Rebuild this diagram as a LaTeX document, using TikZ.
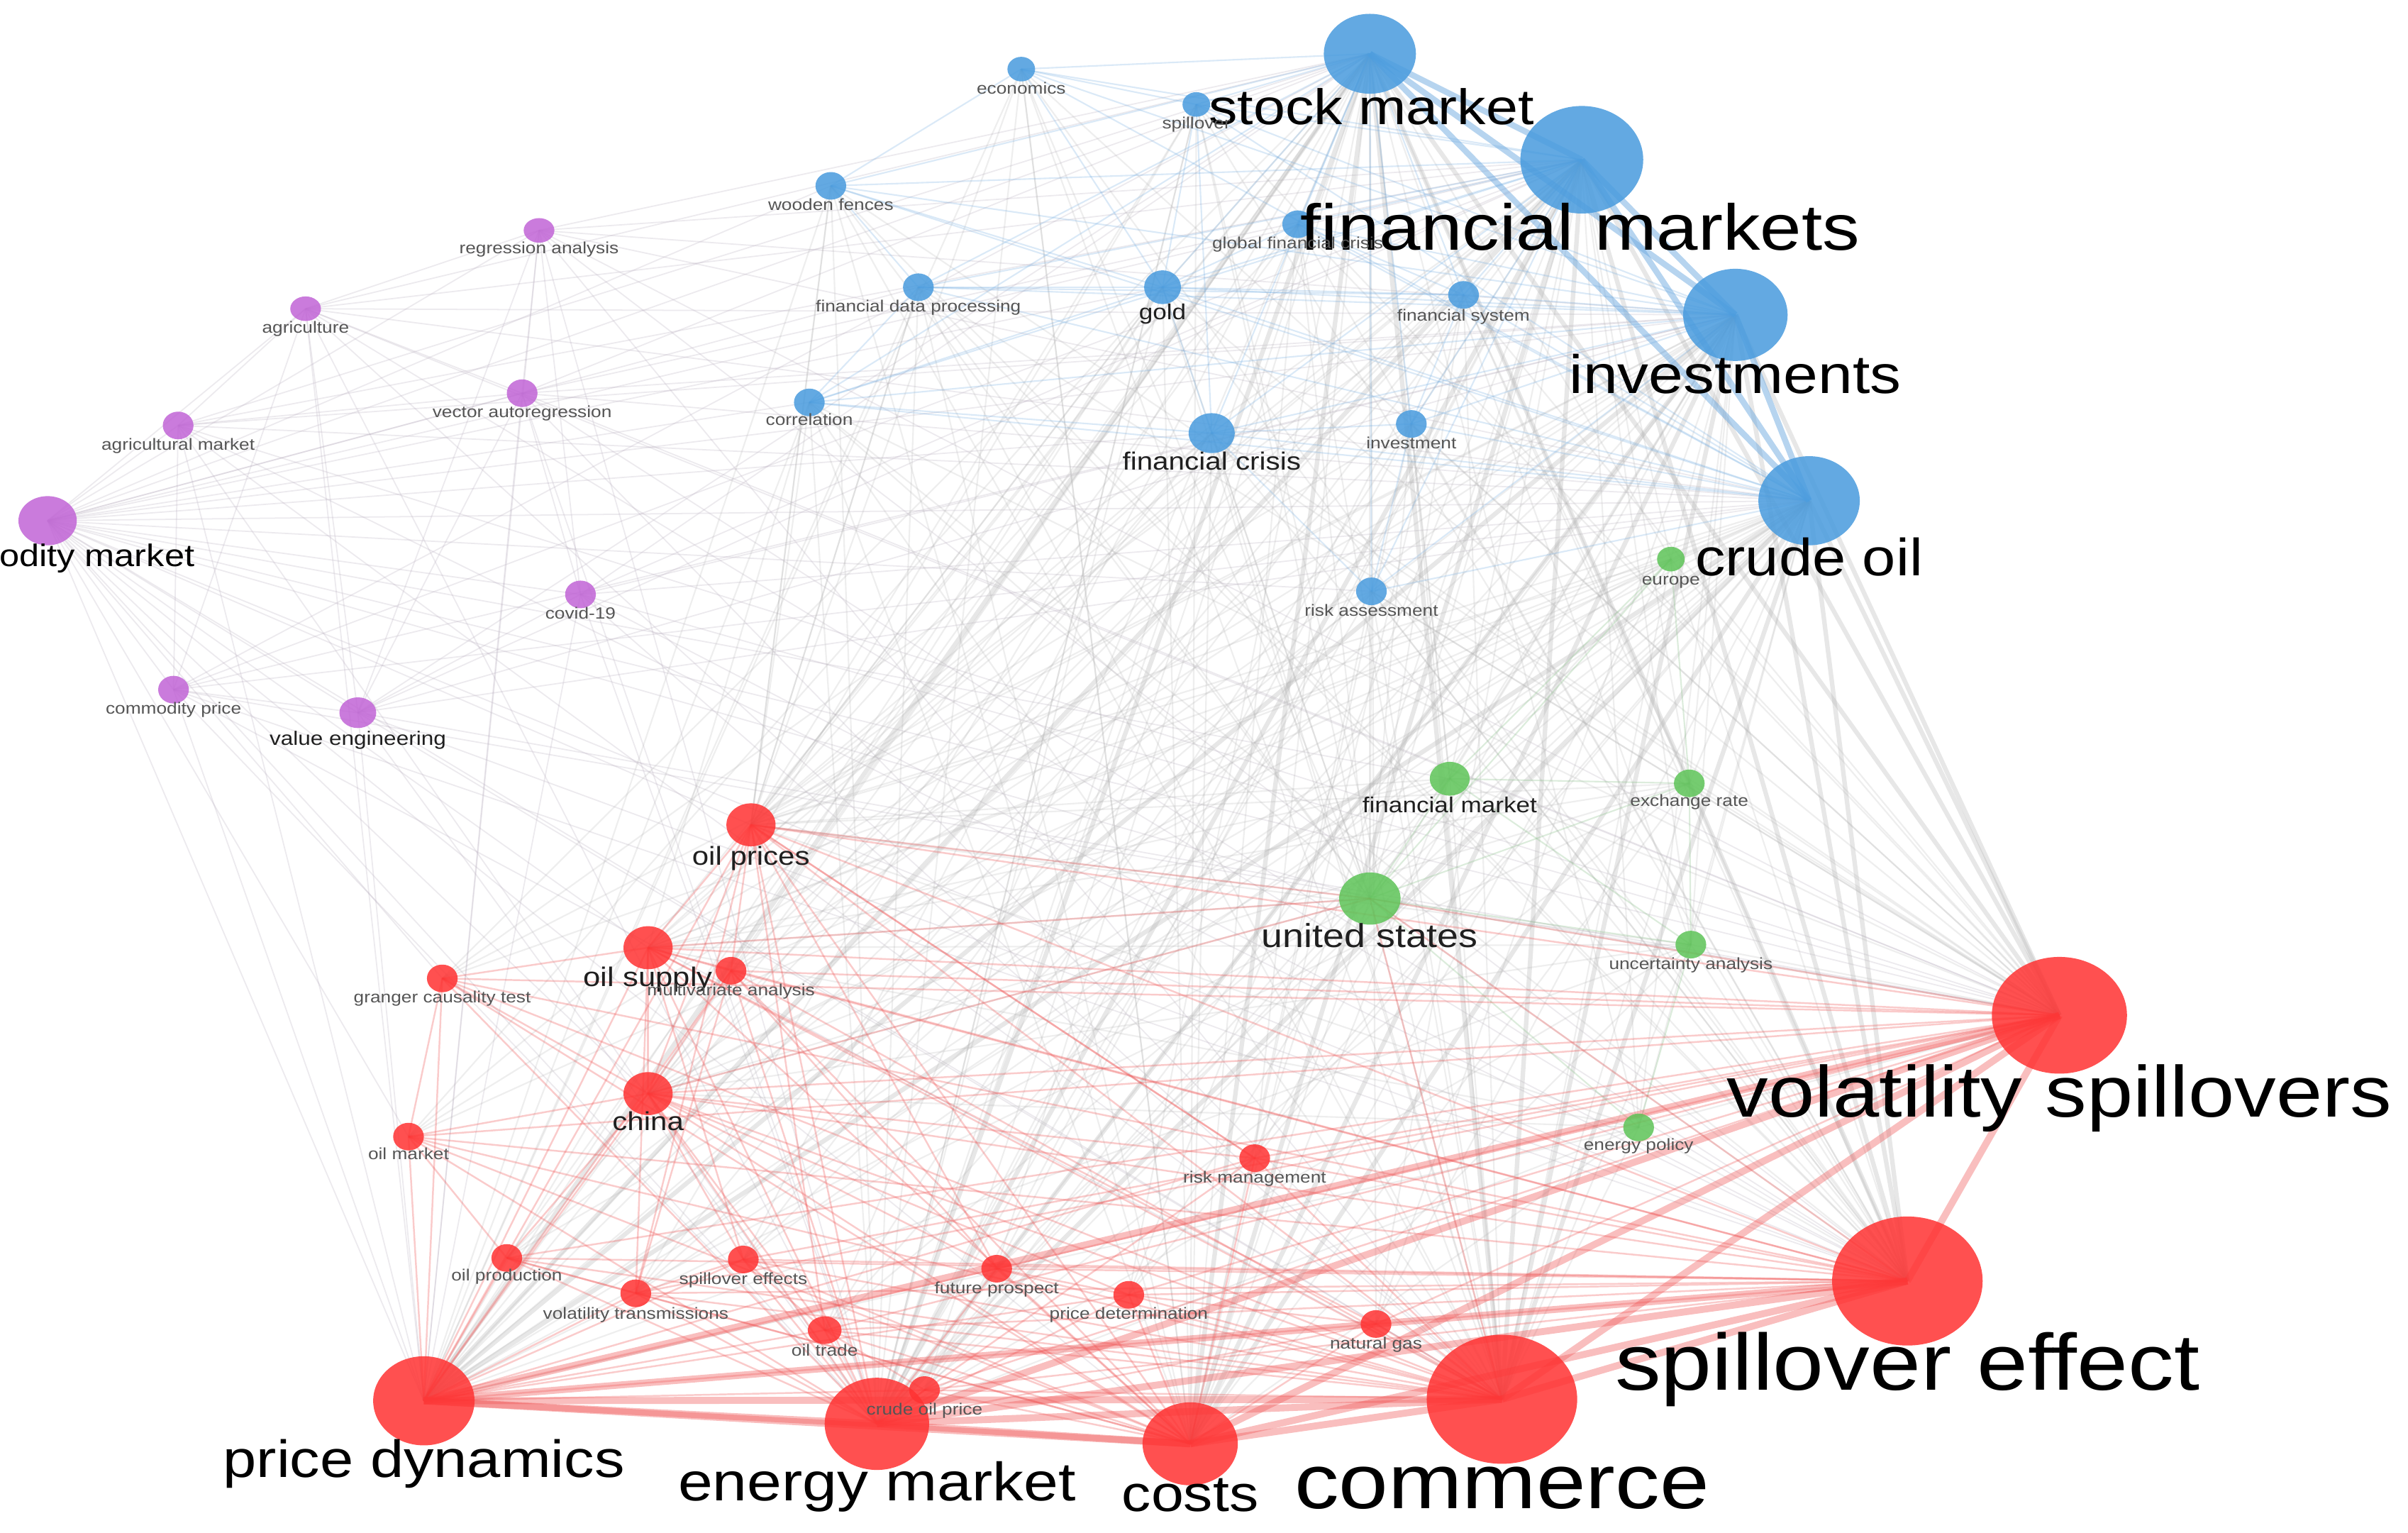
\documentclass[tikz,border=0pt]{standalone}
\usepackage{fontspec}
\setmainfont{Liberation Sans}[FakeStretch=1.15]
\usetikzlibrary{shapes.geometric}
\pgfdeclarelayer{bg}
\pgfsetlayers{bg,main}
\definecolor{cblue}{RGB}{72,155,222}
\definecolor{cpurple}{RGB}{193,100,214}
\definecolor{cgreen}{RGB}{94,196,88}
\definecolor{cred}{RGB}{255,50,50}
\definecolor{ered}{RGB}{240,85,85}
\definecolor{eblue}{RGB}{110,170,225}
\definecolor{egrey}{RGB}{178,178,178}
\definecolor{epurple}{RGB}{190,180,195}
\definecolor{egreen}{RGB}{140,195,140}
\definecolor{tinytext}{RGB}{85,85,85}
\newcommand\fsz[1]{\fontsize{#1}{#1}\selectfont}
\tikzset{
  kw/.style n args={3}{ellipse, inner sep=0pt, draw=none, fill=#1, fill opacity=0.85,
     minimum width=#2*0.0433cm, minimum height=#3*0.0433cm},
  biglab/.style={inner sep=0pt, anchor=base, text=black},
  midlab/.style={inner sep=0pt, anchor=base, text=black!88, font=\fsz{10}},
  tinylab/.style={inner sep=0pt, anchor=base, text=tinytext, font=\fsz{6.5}},
  eR/.style={draw=ered, draw opacity=0.3, line width=0.7pt},
  eRT/.style={draw=ered, draw opacity=0.38, line width=2.8pt},
  eB/.style={draw=eblue, draw opacity=0.25, line width=0.6pt},
  eBT/.style={draw=eblue, draw opacity=0.5, line width=2.4pt},
  eG/.style={draw=egrey, draw opacity=0.22, line width=0.6pt},
  eGT/.style={draw=egrey, draw opacity=0.3, line width=1.8pt},
  eP/.style={draw=epurple, draw opacity=0.28, line width=0.5pt},
  eGn/.style={draw=egreen, draw opacity=0.3, line width=0.6pt},
}
\begin{document}
\begin{tikzpicture}[x=0.02165cm, y=-0.02165cm]
\useasboundingbox (0,0) rectangle (1568,998);
\clip (0,0) rectangle (1568,998);
% ---------- blue cluster ----------
\node[kw={cblue}{30}{26}] (sm) at (892,35) {};
\node[kw={cblue}{40}{35}] (fms) at (1030,104) {};
\node[kw={cblue}{34}{30}] (inv) at (1130,205) {};
\node[kw={cblue}{33}{29}] (co) at (1178,326) {};
\node[kw={cblue}{9}{8}] (eco) at (665,45) {};
\node[kw={cblue}{9}{8}] (spl) at (779,68) {};
\node[kw={cblue}{10}{9}] (wf) at (541,121) {};
\node[kw={cblue}{10}{9}] (gfc) at (845,146) {};
\node[kw={cblue}{10}{9}] (fdp) at (598,187) {};
\node[kw={cblue}{12}{11}] (gold) at (757,187) {};
\node[kw={cblue}{10}{9}] (fsys) at (953,192) {};
\node[kw={cblue}{10}{9}] (corr) at (527,262) {};
\node[kw={cblue}{15}{13}] (fcr) at (789,282) {};
\node[kw={cblue}{10}{9}] (invt) at (919,276) {};
\node[kw={cblue}{10}{9}] (ra) at (893,385) {};
% ---------- purple cluster ----------
\node[kw={cpurple}{19}{16}] (cm) at (31,339) {};
\node[kw={cpurple}{10}{8}] (regr) at (351,150) {};
\node[kw={cpurple}{10}{8}] (agri) at (199,201) {};
\node[kw={cpurple}{10}{9}] (var) at (340,256) {};
\node[kw={cpurple}{10}{9}] (agm) at (116,277) {};
\node[kw={cpurple}{10}{9}] (covid) at (378,387) {};
\node[kw={cpurple}{10}{9}] (cp) at (113,449) {};
\node[kw={cpurple}{12}{10}] (ve) at (233,464) {};
% ---------- green cluster ----------
\node[kw={cgreen}{9}{8}] (eu) at (1088,364) {};
\node[kw={cgreen}{13}{11}] (fmk) at (944,507) {};
\node[kw={cgreen}{10}{9}] (exr) at (1100,510) {};
\node[kw={cgreen}{20}{17}] (us) at (892,585) {};
\node[kw={cgreen}{10}{9}] (unc) at (1101,615) {};
\node[kw={cgreen}{10}{9}] (ep) at (1067,734) {};
% ---------- red cluster ----------
\node[kw={cred}{16}{14}] (oilp) at (489,537) {};
\node[kw={cred}{16}{14}] (oils) at (422,617) {};
\node[kw={cred}{10}{9}] (mva) at (476,632) {};
\node[kw={cred}{10}{9}] (gct) at (288,637) {};
\node[kw={cred}{16}{14}] (chn) at (422,712) {};
\node[kw={cred}{10}{9}] (oilm) at (266,740) {};
\node[kw={cred}{10}{9}] (rm) at (817,754) {};
\node[kw={cred}{10}{9}] (oprod) at (330,819) {};
\node[kw={cred}{10}{9}] (sfx) at (484,820) {};
\node[kw={cred}{10}{9}] (vtr) at (414,842) {};
\node[kw={cred}{10}{9}] (fp) at (649,826) {};
\node[kw={cred}{10}{9}] (pdet) at (735,843) {};
\node[kw={cred}{11}{9}] (otr) at (537,866) {};
\node[kw={cred}{10}{9}] (ng) at (896,862) {};
\node[kw={cred}{10}{9}] (cop) at (602,905) {};
\node[kw={cred}{44}{38}] (vs) at (1341,661) {};
\node[kw={cred}{49}{42}] (se) at (1242,834) {};
\node[kw={cred}{49}{42}] (com) at (978,911) {};
\node[kw={cred}{33}{29}] (pd) at (276,912) {};
\node[kw={cred}{34}{30}] (em) at (571,927) {};
\node[kw={cred}{31}{27}] (cst) at (775,940) {};

% ---------- connectors ----------
\begin{pgfonlayer}{bg}
\fill[white] (0,0) rectangle (1568,998);
% purple links
\foreach \b in {regr,agri,var,agm,covid,cp,ve,sm,fms,inv,co,vs,se,com,pd,em,cst,oilp,oils,chn,us,fcr,gold,fdp,corr,wf,ra,fmk,gct,oilm}
  \draw[eP] (cm.center) -- (\b.center);
\foreach \a in {regr,agri,var,agm,covid,cp,ve}
  \foreach \b in {sm,fms,inv,co,vs,se,com,pd,em}
    \draw[eP] (\a.center) -- (\b.center);
\foreach \a/\b in {regr/agri,regr/var,agri/var,agri/agm,agri/ve,agm/cp,agm/var,var/ve,var/covid,regr/covid,cp/ve,agri/cp,regr/ve,covid/ve}
  \draw[eP] (\a.center) -- (\b.center);
% grey cross links
\foreach \a in {sm,fms,inv,co}
  \foreach \b in {vs,se,com,pd,em,cst}
    \draw[eGT] (\a.center) -- (\b.center);
\foreach \a in {sm,fms,inv,co}
  \foreach \b in {oilp,oils,chn,rm,ng,fp,pdet,cop,otr,sfx,vtr,oprod,oilm,gct,mva,us,fmk,exr,unc,ep,eu}
    \draw[eG] (\a.center) -- (\b.center);
\foreach \a in {eco,spl,wf,gfc,fdp,gold,fsys,corr,fcr,invt,ra}
  \foreach \b in {vs,se,com,pd,em,cst,oilp,us}
    \draw[eG] (\a.center) -- (\b.center);
\foreach \a in {eu,fmk,exr,us,unc,ep}
  \foreach \b in {vs,se,com,pd,em,cst,oilp,oils,chn}
    \draw[eG] (\a.center) -- (\b.center);
\foreach \a/\b in {fcr/oils,fcr/chn,gold/oilp,gold/chn,ra/se,ra/vs,corr/oils,wf/oilp,eco/cst,spl/em,fdp/oilp,invt/fmk,fsys/exr}
  \draw[eG] (\a.center) -- (\b.center);
% green links
\foreach \a/\b in {eu/fmk,eu/exr,fmk/exr,fmk/us,us/unc,exr/unc,us/ep,unc/ep,eu/us,fmk/unc,exr/us}
  \draw[eGn] (\a.center) -- (\b.center);
% blue links
\foreach \a/\b in {sm/fms,sm/inv,sm/co,fms/inv,fms/co,inv/co}
  \draw[eBT] (\a.center) -- (\b.center);
\foreach \a in {sm,fms,inv,co}
  \foreach \b in {eco,spl,wf,gfc,fdp,gold,fsys,corr,fcr,invt,ra}
    \draw[eB] (\a.center) -- (\b.center);
\foreach \a/\b in {eco/spl,eco/wf,wf/fdp,fdp/gold,gold/fsys,gold/fcr,fdp/corr,corr/fcr,fcr/invt,invt/fsys,wf/gold,eco/gold,spl/gold,spl/fcr,gfc/gold,gfc/fsys,fdp/fsys,invt/ra,fcr/ra,corr/gold}
  \draw[eB] (\a.center) -- (\b.center);
% red links
\foreach \a in {vs,se,com,pd,em,cst}
  \foreach \b in {oilp,oils,mva,gct,chn,oilm,rm,oprod,sfx,vtr,fp,pdet,otr,ng,cop}
    \draw[eR] (\a.center) -- (\b.center);
\foreach \a/\b in {oilp/oils,oilp/chn,oils/chn,oils/mva,gct/oils,oilm/chn,oprod/chn,sfx/chn,vtr/oils,otr/oilp,fp/oilp,oilp/mva,gct/oilm,oilm/oprod,oprod/vtr,vtr/sfx,sfx/otr,otr/cop,fp/pdet,pdet/ng,rm/oilp,rm/chn,fp/chn,mva/chn,gct/chn,oilp/us,chn/us,oils/us,us/vs,us/se,us/com,oilp/vtr,oils/sfx,chn/otr,mva/fp,oilp/rm,chn/pdet,oils/ng,mva/vtr}
  \draw[eR] (\a.center) -- (\b.center);
\foreach \a/\b in {pd/em,pd/cst,pd/com,pd/se,pd/vs,em/cst,em/com,em/se,em/vs,cst/com,cst/se,cst/vs,com/se,com/vs,se/vs}
  \draw[eRT] (\a.center) -- (\b.center);
\end{pgfonlayer}

% ---------- labels ----------
\node[biglab, font=\fsz{20}] (smL) at (893,81) {stock market};
\node[biglab, font=\fsz{26}] (fmsL) at (1029,163) {financial markets};
\node[biglab, font=\fsz{21.7}] (invL) at (1130,256) {investments};
\node[biglab, font=\fsz{21}] (coL) at (1178,375) {crude oil};
\node[biglab, font=\fsz{12.5}, anchor=base east] (cmL) at (127,369) {commodity market};
\node[biglab, font=\fsz{29}] (vsL) at (1341,727) {volatility spillovers};
\node[biglab, font=\fsz{32}] (seL) at (1242,905) {spillover effect};
\node[biglab, font=\fsz{31}] (comL) at (978,982) {commerce};
\node[biglab, font=\fsz{21}] (pdL) at (276,962) {price dynamics};
\node[biglab, font=\fsz{21.7}] (emL) at (571,977) {energy market};
\node[biglab, font=\fsz{20.4}] (cstL) at (775,984) {costs};

\node[midlab, font=\fsz{13.3}] (usL) at (892,617) {united states};
\node[midlab, font=\fsz{10.4}] (oilpL) at (489,563) {oil prices};
\node[midlab, font=\fsz{10.8}] (oilsL) at (422,642) {oil supply};
\node[midlab, font=\fsz{10.4}] (chnL) at (422,736) {china};
\node[midlab, font=\fsz{10}] (fcrL) at (789,306) {financial crisis};
\node[midlab, font=\fsz{8.7}] (goldL) at (757,208) {gold};
\node[midlab, font=\fsz{8.7}] (fmkL) at (944,529) {financial market};
\node[midlab, font=\fsz{7.8}] (veL) at (233,485) {value engineering};

\node[tinylab] (ecoL) at (665,61) {economics};
\node[tinylab] (splL) at (779,84) {spillover};
\node[tinylab] (wfL) at (541,137) {wooden fences};
\node[tinylab] (gfcL) at (845,162) {global financial crisis};
\node[tinylab] (fdpL) at (598,203) {financial data processing};
\node[tinylab] (fsysL) at (953,209) {financial system};
\node[tinylab] (corrL) at (527,277) {correlation};
\node[tinylab] (invtL) at (919,292) {investment};
\node[tinylab] (raL) at (893,401) {risk assessment};
\node[tinylab] (regrL) at (351,165) {regression analysis};
\node[tinylab] (agriL) at (199,217) {agriculture};
\node[tinylab] (varL) at (340,272) {vector autoregression};
\node[tinylab] (agmL) at (116,293) {agricultural market};
\node[tinylab] (covidL) at (378,403) {covid-19};
\node[tinylab] (cpL) at (113,465) {commodity price};
\node[tinylab] (euL) at (1088,381) {europe};
\node[tinylab] (exrL) at (1100,525) {exchange rate};
\node[tinylab] (uncL) at (1101,631) {uncertainty analysis};
\node[tinylab] (epL) at (1067,749) {energy policy};
\node[tinylab] (mvaL) at (476,648) {multivariate analysis};
\node[tinylab] (gctL) at (288,653) {granger causality test};
\node[tinylab] (oilmL) at (266,755) {oil market};
\node[tinylab] (rmL) at (817,770) {risk management};
\node[tinylab] (oprodL) at (330,834) {oil production};
\node[tinylab] (sfxL) at (484,836) {spillover effects};
\node[tinylab] (vtrL) at (414,859) {volatility transmissions};
\node[tinylab] (fpL) at (649,842) {future prospect};
\node[tinylab] (pdetL) at (735,859) {price determination};
\node[tinylab] (otrL) at (537,883) {oil trade};
\node[tinylab] (ngL) at (896,878) {natural gas};
\node[tinylab] (copL) at (602,921) {crude oil price};
\end{tikzpicture}
\end{document}
